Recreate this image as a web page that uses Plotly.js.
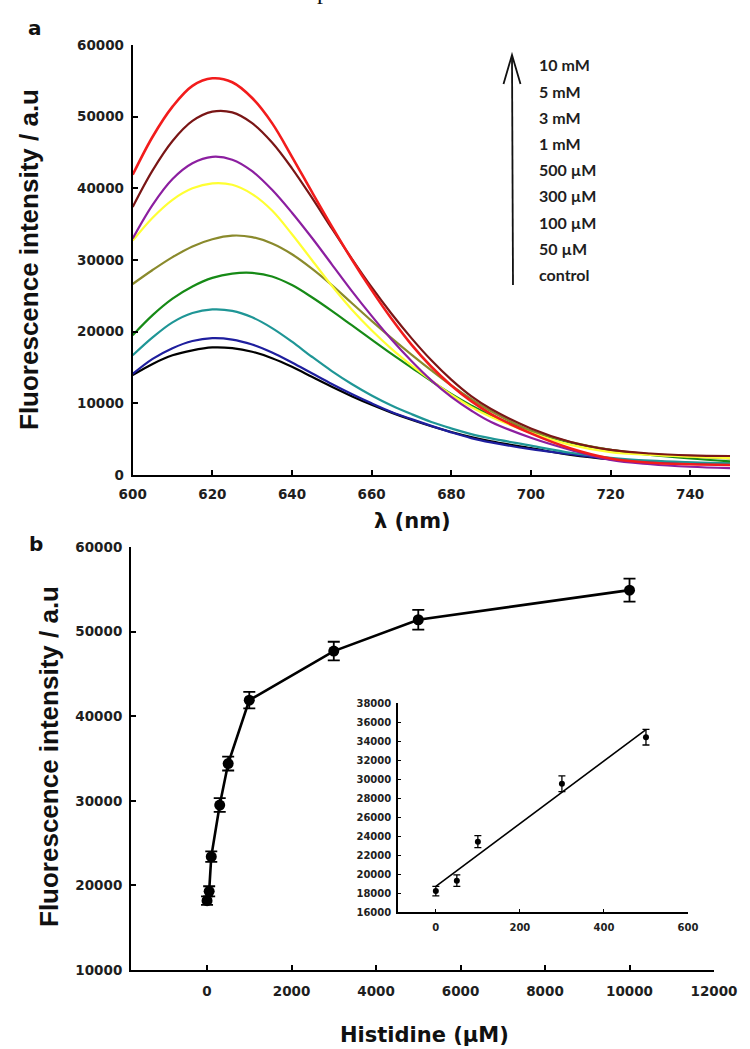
<!DOCTYPE html>
<html>
<head>
<meta charset="utf-8">
<script src="https://cdn.plot.ly/plotly-3.0.1.min.js"></script>
<style>
  html, body { margin: 0; padding: 0; background: #fff; }
  #graph { width: 750px; height: 1049px; }
</style>
</head>
<body>
<div id="graph"></div>
<script>
// panel a: emission spectra (nm vs a.u.)
const wavelengths = [600, 605, 610, 615, 620, 625, 630, 635, 640, 645, 650, 655, 660, 665, 670, 675, 680, 685, 690, 700, 710, 720, 730, 740, 750];

const control = [13950, 15500, 16700, 17400, 17800, 17700, 17200, 16300, 15100, 13700, 12300, 11000, 9800, 8700, 7700, 6800, 6000, 5300, 4700, 3750, 2800, 2200, 1900, 1700, 1550];
const his50uM = [14100, 16200, 17700, 18700, 19100, 18900, 18200, 17100, 15700, 14200, 12700, 11300, 10000, 8800, 7800, 6850, 5950, 5150, 4550, 3600, 2900, 2200, 1900, 1650, 1450];
const his100uM = [16700, 19200, 21300, 22600, 23100, 22900, 22000, 20500, 18600, 16500, 14500, 12700, 11100, 9700, 8500, 7400, 6500, 5700, 5100, 4100, 3100, 2400, 2000, 1780, 1630];
const his300uM = [19500, 22300, 24600, 26300, 27500, 28100, 28200, 27700, 26500, 24800, 22900, 20900, 18900, 16900, 15000, 13100, 11300, 9700, 8300, 6100, 4500, 3500, 2800, 2300, 1900];
const his500uM = [26650, 28600, 30400, 31900, 32900, 33400, 33200, 32300, 30800, 28800, 26500, 24000, 21500, 19100, 16800, 14600, 12500, 10600, 8900, 6200, 4600, 3500, 2900, 2550, 2300];
const his1mM = [32700, 35900, 38400, 40000, 40700, 40500, 39200, 36900, 33600, 30000, 26400, 23100, 20200, 17600, 15300, 13200, 11200, 9500, 8100, 5900, 4200, 3200, 2800, 2550, 2350];
const his3mM = [33000, 37700, 41300, 43500, 44400, 44000, 42400, 39800, 36600, 33100, 29400, 25700, 22200, 18900, 15900, 13200, 10900, 9000, 7400, 5200, 3500, 2100, 1500, 1150, 950];
const his5mM = [37400, 42500, 46600, 49400, 50700, 50600, 49100, 46400, 42800, 38700, 34400, 30200, 26200, 22500, 19100, 16000, 13300, 11000, 9200, 6500, 4600, 3500, 3000, 2750, 2650];
const his10mM = [41900, 47200, 51400, 54300, 55350, 54800, 52600, 49100, 44400, 39500, 34700, 30100, 25800, 21800, 18200, 15100, 12500, 10300, 8500, 5800, 3700, 2300, 1700, 1500, 1400];

const spectra = [control, his50uM, his100uM, his300uM, his500uM, his1mM, his3mM, his5mM, his10mM];
const spectraColors = ['#000000', '#1e1e9e', '#1f9696', '#168a16', '#8a8a2c', '#ffff33', '#8c1fa0', '#7a1616', '#f21c1c'];
const legendLabels = ['10 mM', '5 mM', '3 mM', '1 mM', '500 µM', '300 µM', '100 µM', '50 µM', 'control'];

// panel b: intensity vs histidine concentration
const histidine = [0, 50, 100, 300, 500, 1000, 3000, 5000, 10000];
const intensity = [18200, 19300, 23400, 29500, 34400, 41900, 47700, 51400, 54900];
const intensityErr = [500, 600, 630, 820, 820, 980, 1100, 1160, 1350];

// inset: linear range
const insetCount = 5;
const fitX = [0, 500];
const fitY = [18700, 35200];

const W = 750, H = 1049;
const px = v => v / W;
const py = v => 1 - v / H;

const tickFont = {family: 'DejaVu Sans', size: 13.5, weight: 'bold', color: '#1e1e1e'};
const insetTickFont = {family: 'DejaVu Sans', size: 10, weight: 'bold', color: '#1e1e1e'};

function axisStyle(extra) {
    return Object.assign({
        showline: true,
        linecolor: '#000',
        linewidth: 2,
        ticks: 'inside',
        ticklen: 5,
        tickwidth: 2,
        tickcolor: '#000',
        showgrid: false,
        zeroline: false,
        tickformat: 'd',
        tickfont: tickFont,
        fixedrange: true
    }, extra);
}

let data = [];

spectra.forEach((vals, i) => {
    data.push({
        x: wavelengths,
        y: vals,
        type: 'scatter',
        mode: 'lines',
        line: {color: spectraColors[i], width: i === 8 ? 2.6 : 2.2, shape: 'spline', smoothing: 1},
        xaxis: 'x',
        yaxis: 'y',
        hoverinfo: 'skip'
    });
});

data.push({
    x: histidine,
    y: intensity,
    type: 'scatter',
    mode: 'lines+markers',
    line: {color: '#000', width: 2.6},
    marker: {color: '#000', size: 11},
    error_y: {type: 'data', array: intensityErr, visible: true, color: '#000', thickness: 1.8, width: 6},
    xaxis: 'x2',
    yaxis: 'y2'
});

data.push({
    x: fitX,
    y: fitY,
    type: 'scatter',
    mode: 'lines',
    line: {color: '#000', width: 1.6},
    xaxis: 'x3',
    yaxis: 'y3'
});

data.push({
    x: histidine.slice(0, insetCount),
    y: intensity.slice(0, insetCount),
    type: 'scatter',
    mode: 'markers',
    marker: {color: '#000', size: 6},
    error_y: {type: 'data', array: intensityErr.slice(0, insetCount), visible: true, color: '#000', thickness: 1.3, width: 3.5},
    xaxis: 'x3',
    yaxis: 'y3'
});

const titleFont = {family: 'Liberation Sans', size: 26, weight: 'bold', color: '#111'};
const xTitleFont = {family: 'DejaVu Sans', size: 21, weight: 'bold', color: '#111'};
const legendFont = {family: 'Lato', size: 16, weight: 'bold', color: '#1e1e1e'};
const panelFont = {family: 'DejaVu Sans', size: 20, weight: 'bold', color: '#111'};

let annotations = [
    {text: 'a', x: px(35), y: py(28), font: panelFont},
    {text: 'b', x: px(36), y: py(544), font: panelFont},
    {text: 'p', x: px(323), y: py(6), yanchor: 'bottom', font: {family: 'Liberation Serif', size: 24, color: '#111'}},
    {text: 'Fluorescence intensity / a.u', x: px(29), y: py(260), textangle: -90, font: titleFont},
    {text: 'Fluorescence intensity / a.u', x: px(49), y: py(757), textangle: -90, font: titleFont},
    {text: 'λ (nm)', x: px(412), y: py(521), font: xTitleFont},
    {text: 'Histidine (µM)', x: px(424), y: py(1035), font: xTitleFont}
];

legendLabels.forEach((label, i) => {
    annotations.push({text: label, x: px(537), y: py(65 + i * 26.2), xanchor: 'left', font: legendFont});
});

annotations = annotations.map(a => Object.assign({xref: 'paper', yref: 'paper', showarrow: false, xanchor: 'center', yanchor: 'middle'}, a));

let shapes = [
    {type: 'line', xref: 'paper', yref: 'paper', x0: px(513), y0: py(285), x1: px(512), y1: py(56), line: {color: '#111', width: 1.8}},
    {type: 'path', xref: 'paper', yref: 'paper',
     path: `M ${px(503.5)} ${py(84)} L ${px(512)} ${py(55)} L ${px(520.5)} ${py(84)}`,
     line: {color: '#111', width: 1.8}}
];

let layout = {
    width: W,
    height: H,
    margin: {l: 0, r: 0, t: 0, b: 0},
    paper_bgcolor: '#fff',
    plot_bgcolor: 'rgba(0,0,0,0)',
    showlegend: false,
    xaxis: axisStyle({domain: [px(132.7), px(730)], range: [600, 750], tick0: 600, dtick: 20, anchor: 'y', ticklabelstandoff: 6}),
    yaxis: axisStyle({domain: [py(475), py(45)], range: [0, 60000], dtick: 10000, anchor: 'x', ticklabelstandoff: 4}),
    xaxis2: axisStyle({domain: [px(131), px(714)], range: [-1800, 12000], tick0: 0, dtick: 2000, anchor: 'y2', ticklabelstandoff: 8}),
    yaxis2: axisStyle({domain: [py(970), py(547)], range: [10000, 60000], dtick: 10000, anchor: 'x2', ticklabelstandoff: 4}),
    xaxis3: axisStyle({domain: [px(398), px(688)], range: [-90, 600], tick0: 0, dtick: 200, anchor: 'y3',
        linewidth: 1.5, ticklen: 3, tickwidth: 1, tickfont: insetTickFont, ticklabelstandoff: 5}),
    yaxis3: axisStyle({domain: [py(912), py(703)], range: [16000, 38000], dtick: 2000, anchor: 'x3',
        linewidth: 1.5, ticklen: 3, tickwidth: 1, tickfont: insetTickFont, ticklabelstandoff: 3}),
    annotations: annotations,
    shapes: shapes
};

let config = {
    displayModeBar: false,
    responsive: false
};

Plotly.newPlot('graph', data, layout, config);
</script>
</body>
</html>
